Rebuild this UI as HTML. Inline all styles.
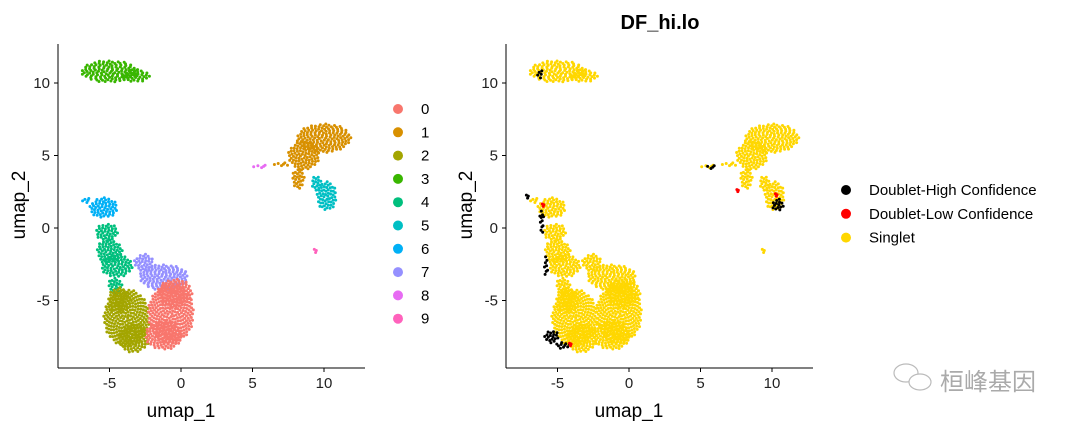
<!DOCTYPE html>
<html><head><meta charset="utf-8"><style>
body{margin:0;background:#fff;}
svg text{font-family:"Liberation Sans","Noto Sans CJK SC",sans-serif;}
</style></head><body>
<svg id="c" width="1080" height="430" xmlns="http://www.w3.org/2000/svg">
<g id="left"></g>
<g id="right"></g>
<text x="660" y="29" text-anchor="middle" font-size="20" font-weight="bold" fill="#000">DF_hi.lo</text>
<text x="181" y="417" text-anchor="middle" font-size="19" fill="#000">umap_1</text>
<text x="629" y="417" text-anchor="middle" font-size="19" fill="#000">umap_1</text>
<text transform="translate(25,205) rotate(-90)" text-anchor="middle" font-size="19" fill="#000">umap_2</text>
<text transform="translate(472,205) rotate(-90)" text-anchor="middle" font-size="19" fill="#000">umap_2</text>
<g fill="none" stroke="#bbb" stroke-width="1.2">
<ellipse cx="906" cy="373" rx="12" ry="9"/><ellipse cx="920" cy="382" rx="11" ry="8" fill="#fff"/>
<text x="940" y="390" font-size="24" fill="#aaa" stroke="none">桓峰基因</text>
</g>
</svg>
<script>
// cluster blobs: centre x, centre y (umap units), radius x, radius y
const clusterIds=['0','1','2','3','4','5','6','7','8','9'];
const clusterColors=['#F8766D','#D89000','#A3A500','#39B600','#00BF7D','#00BFC4','#00B0F6','#9590FF','#E76BF3','#FF62BC'];
const blobCluster=[3,3,1,1,1,1,5,5,8,9,6,6,4,4,4,4,7,7,2,2,2,0,0,0];
const blobCx=[-5.0,-3.2,10.0,8.6,8.2,7.0,10.2,9.5,5.6,9.4,-5.4,-6.6,-5.2,-5.0,-4.5,-4.6,-1.2,-2.6,-3.8,-3.3,-4.3,-0.7,-1.2,-0.4];
const blobCy=[10.8,10.5,6.2,5.0,3.4,4.4,2.2,3.1,4.25,-1.55,1.4,1.9,-0.3,-1.6,-2.6,-4.0,-3.4,-2.4,-6.2,-7.6,-5.0,-5.9,-7.4,-4.5];
const blobRx=[2.0,1.0,1.9,1.1,0.45,0.55,0.7,0.4,0.55,0.15,1.0,0.3,0.8,0.9,1.1,0.5,1.7,0.7,1.6,1.1,0.8,1.6,1.3,1.2];
const blobRy=[0.75,0.45,1.0,1.0,0.7,0.15,1.0,0.5,0.12,0.15,0.7,0.2,0.6,0.8,0.8,0.6,0.9,0.6,2.0,1.0,0.9,2.1,1.0,1.0];
// doublet blobs (right panel): type 0 = high confidence (black), 1 = low confidence (red)
const dblType=[0,0,0,0,0,0,0,0,1,1,1,1];
const dblCx=[-6.2,-7.1,-6.1,-5.8,-5.4,-4.6,10.4,5.7,-6.0,10.3,-4.1,7.6];
const dblCy=[10.6,2.2,0.5,-2.6,-7.5,-8.1,1.6,4.2,1.6,2.3,-8.0,2.6];
const dblRx=[0.2,0.15,0.15,0.15,0.5,0.5,0.4,0.45,0.12,0.12,0.12,0.1];
const dblRy=[0.35,0.15,0.9,0.7,0.45,0.25,0.45,0.12,0.12,0.12,0.12,0.1];
const xTicks=[-5,0,5,10];
const yTicks=[-5,0,5,10];
const doubletLabels=['Doublet-High Confidence','Doublet-Low Confidence','Singlet'];
const doubletColors=['#000000','#FF0000','#FFD700'];

const NS='http://www.w3.org/2000/svg';
function mk(tag,attrs,parent){const e=document.createElementNS(NS,tag);for(const k in attrs)e.setAttribute(k,attrs[k]);parent.appendChild(e);return e;}
function sx(x0){return u=>x0+14.3*u;}
const sy=v=>228-14.5*v;
function fillBlob(g,cx,cy,rx,ry,color,fx){
  const area=Math.PI*rx*ry, n=Math.max(3,Math.round(area/0.04));
  for(let i=0;i<n;i++){
    const r=Math.sqrt((i+0.5)/n), a=i*2.39996;
    const c=mk('circle',{cx:fx(cx+rx*r*Math.cos(a)).toFixed(1),cy:sy(cy+ry*r*Math.sin(a)).toFixed(1),r:1.5,fill:color},g);
    
    
  }
}
function axes(g,x0){
  const fx=sx(x0), left=x0-123, bottom=368;
  const ax=mk('line',{x1:left,y1:44,x2:left,y2:bottom,stroke:'#000','stroke-width':1},g);
  
  const bx=mk('line',{x1:left,y1:bottom,x2:left+307,y2:bottom,stroke:'#000','stroke-width':1},g);
  
  xTicks.forEach(t=>{
    mk('line',{x1:fx(t),y1:bottom,x2:fx(t),y2:bottom+4,stroke:'#000'},g);
    const tx=mk('text',{x:fx(t),y:bottom+20,'text-anchor':'middle','font-size':15,fill:'#222'},g);
    tx.textContent=t;
  });
  yTicks.forEach(t=>{
    mk('line',{x1:left-4,y1:sy(t),x2:left,y2:sy(t),stroke:'#000'},g);
    const tx=mk('text',{x:left-8,y:sy(t)+5,'text-anchor':'end','font-size':15,fill:'#222'},g);
    tx.textContent=t;
  });
}
const L=document.getElementById('left'), R=document.getElementById('right');
const fl=sx(181), fr=sx(629);
blobCx.forEach((_,i)=>fillBlob(L,blobCx[i],blobCy[i],blobRx[i],blobRy[i],clusterColors[blobCluster[i]],fl));
blobCx.forEach((_,i)=>fillBlob(R,blobCx[i],blobCy[i],blobRx[i],blobRy[i],doubletColors[2],fr));
dblCx.forEach((_,i)=>fillBlob(R,dblCx[i],dblCy[i],dblRx[i],dblRy[i],doubletColors[dblType[i]],fr));
axes(L,181);axes(R,629);
clusterIds.forEach((id,i)=>{
  const y=109+23.3*i;
  const d=mk('circle',{cx:398,cy:y,r:5,fill:clusterColors[i]},L);
  
  const t=mk('text',{x:421,y:y+5,'font-size':15,fill:'#000'},L);
  t.textContent=id;
});
doubletLabels.forEach((lab,i)=>{
  const y=190+23.8*i;
  const d=mk('circle',{cx:846,cy:y,r:5,fill:doubletColors[i]},R);
  
  const t=mk('text',{x:869,y:y+5,'font-size':15,fill:'#000'},R);
  t.textContent=lab;
});
</script>
</body></html>
